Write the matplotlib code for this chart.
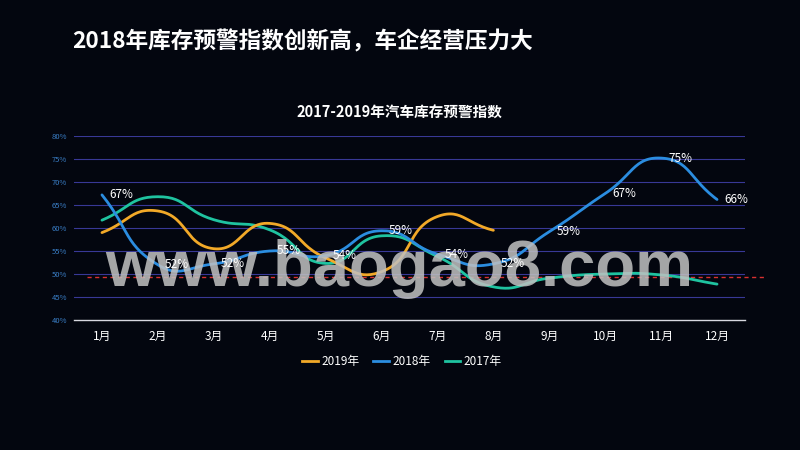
import numpy as np
import matplotlib
matplotlib.use("Agg")
import matplotlib.pyplot as plt
from matplotlib.lines import Line2D

plt.rcParams['font.family'] = ['Noto Sans CJK SC', 'DejaVu Sans']

months = ['1月', '2月', '3月', '4月', '5月', '6月', '7月', '8月', '9月', '10月', '11月', '12月']
s2019 = [59.0, 63.7, 55.5, 61.0, 53.5, 50.5, 62.5, 59.5]
s2018 = [67.2, 52.0, 52.2, 55.0, 54.0, 59.4, 54.3, 52.2, 59.2, 67.5, 75.2, 66.2]
s2017 = [61.7, 66.8, 61.8, 59.6, 52.3, 58.3, 53.8, 47.2, 49.1, 50.0, 49.8, 47.8]
labels2018 = ['67%', '52%', '52%', '55%', '54%', '59%', '54%', '52%', '59%', '67%', '75%', '66%']
warn_line = 49.4
main_title = '2018年库存预警指数创新高，车企经营压力大'
chart_title = '2017-2019年汽车库存预警指数'
watermark = 'www.baogao8.com'

BG = '#03060f'
C2019 = '#f2a928'
C2018 = '#2b8de0'
C2017 = '#1fc3a0'


def smooth_curve(xs, ys, smooth=0.5, sx=55.9, sy=4.6, n=30):
    xs = np.asarray(xs, float)
    ys = np.asarray(ys, float)
    P = np.column_stack([xs * sx, ys * sy])
    m = len(P)
    cps = []
    for i in range(m):
        prev = P[max(i - 1, 0)]
        nxt = P[min(i + 1, m - 1)]
        v = nxt - prev
        d0 = np.linalg.norm(P[i] - prev)
        d1 = np.linalg.norm(nxt - P[i])
        tot = d0 + d1
        if tot == 0:
            cps.append((P[i], P[i]))
            continue
        cps.append((P[i] - v * smooth * d0 / tot, P[i] + v * smooth * d1 / tot))
    out = []
    t = np.linspace(0, 1, n)[:, None]
    for i in range(m - 1):
        p0 = P[i]
        c1 = cps[i][1]
        c2 = cps[i + 1][0]
        p3 = P[i + 1]
        seg = ((1 - t) ** 3) * p0 + 3 * ((1 - t) ** 2) * t * c1 + 3 * (1 - t) * t ** 2 * c2 + t ** 3 * p3
        out.append(seg if i == 0 else seg[1:])
    out = np.vstack(out)
    return out[:, 0] / sx, out[:, 1] / sy


fig = plt.figure(figsize=(8, 4.5), dpi=100, facecolor=BG)
ax = fig.add_axes([74 / 800, 1 - 320 / 450, (745 - 74) / 800, (320 - 136) / 450])
ax.set_facecolor(BG)

x_idx = np.arange(len(months))
ax.set_xlim(-0.5, len(months) - 0.5)
ax.set_ylim(40, 80)
ax.set_yticks(np.arange(40, 81, 5))
ax.set_yticklabels([f'{v}%' for v in range(40, 81, 5)], color='#3a7fc8', fontsize=5.5)
ax.set_xticks(x_idx)
ax.set_xticklabels(months, color='white', fontsize=8.5)
ax.tick_params(axis='both', length=0)
ax.tick_params(axis='y', pad=5)
ax.tick_params(axis='x', pad=7)
for sp in ['top', 'right', 'left']:
    ax.spines[sp].set_visible(False)
ax.spines['bottom'].set_color('#d8d8e0')
ax.spines['bottom'].set_linewidth(1.0)
for v in range(45, 81, 5):
    ax.axhline(v, color='#383896', lw=0.8, zorder=1)

for series, col in [(s2017, C2017), (s2019, C2019), (s2018, C2018)]:
    sxv, syv = smooth_curve(x_idx[:len(series)], series)
    ax.plot(sxv, syv, color=col, lw=2.0, zorder=3, solid_capstyle='round')

ax.plot([-0.27, 11.86], [warn_line, warn_line], color='#d83030', lw=1.0,
        ls=(0, (3, 2.5)), clip_on=False, zorder=2)

ax.text(399 / 800, 1 - 286 / 450, watermark, transform=fig.transFigure,
        ha='center', va='baseline', fontsize=47, fontweight='bold',
        family=['Liberation Sans', 'DejaVu Sans'], color='#c0c0c0',
        alpha=0.86, zorder=5, clip_on=False)

for i, (v, lab) in enumerate(zip(s2018, labels2018)):
    ax.annotate(lab, (i, v), xytext=(5, 0), textcoords='offset points',
                ha='left', va='center', color='white', fontsize=8.5, zorder=6)

fig.text(72 / 800, 1 - 42 / 450, main_title, ha='left', va='center',
         color='white', fontsize=16.3, fontweight='bold')
fig.text(399 / 800, 1 - 113 / 450, chart_title, ha='center', va='center',
         color='white', fontsize=10.5, fontweight='bold')

handles = [Line2D([0], [0], color=c, lw=2) for c in (C2019, C2018, C2017)]
leg = fig.legend(handles, ['2019年', '2018年', '2017年'], loc='center',
                 bbox_to_anchor=(402 / 800, 1 - 362 / 450), ncol=3, frameon=False,
                 fontsize=8.5, handlelength=1.3, handletextpad=0.3, columnspacing=1.2)
for t in leg.get_texts():
    t.set_color('white')

fig.savefig('out.png', dpi=100, facecolor=BG)
